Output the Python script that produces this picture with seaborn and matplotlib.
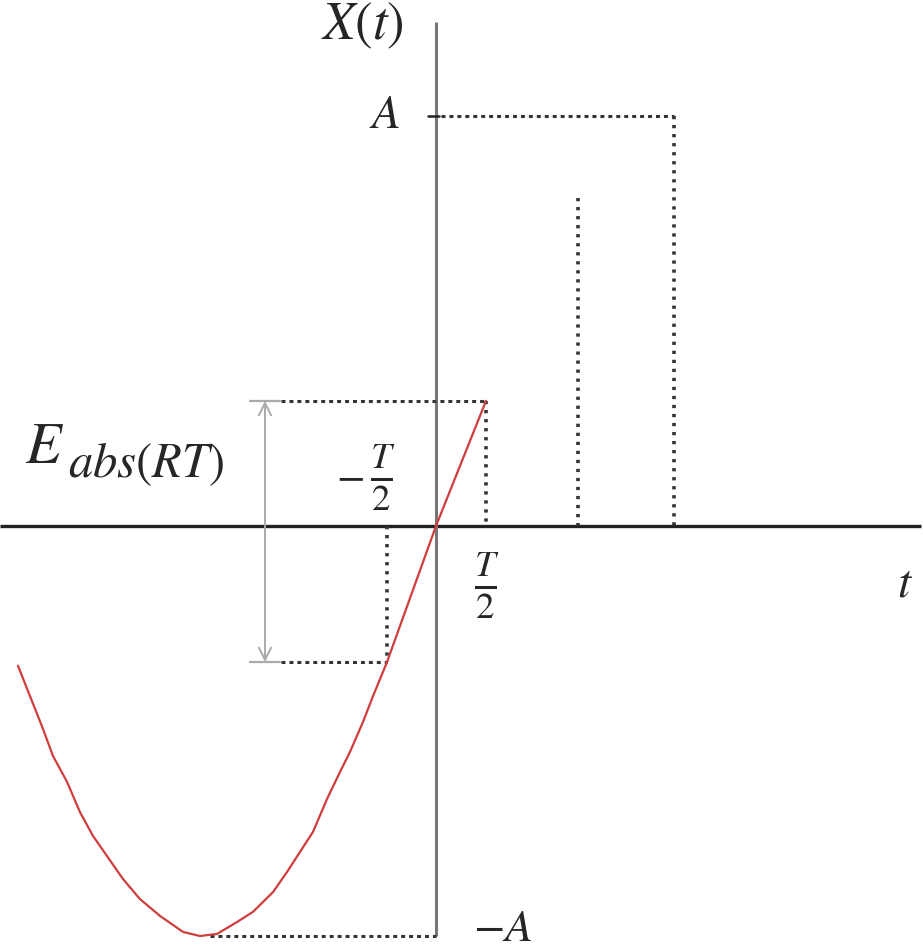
import numpy as np
import matplotlib
matplotlib.use('Agg')
import matplotlib.pyplot as plt
import seaborn as sns
import pandas as pd

# units: t in T/2, X in A
curve_t = [-8.36, -8.12, -7.86, -7.66, -7.38, -7.12, -6.86, -6.58, -6.26, -5.92,
           -5.52, -5.06, -4.72, -4.38, -3.98, -3.66, -3.26, -2.98, -2.72, -2.46,
           -2.18, -1.92, -1.72, -1.46, -1.26, -0.98, 0.0, 1.0]
curve_x = [-0.341, -0.415, -0.495, -0.561, -0.624, -0.698, -0.756, -0.805, -0.861, -0.910,
           -0.951, -0.990, -1.0, -0.995, -0.966, -0.941, -0.893, -0.844, -0.795, -0.746,
           -0.666, -0.600, -0.551, -0.478, -0.415, -0.332, 0.0, 0.305]

half_T = 1.0
amp = 1.0
e_top = 0.305
e_bot = -0.332
pulse_edges = [2.84, 4.76]
pulse_mid_top = 0.80
t_min = -4.72

sns.set_style('white')
plt.rcParams['mathtext.fontset'] = 'stix'
plt.rcParams['font.family'] = ['STIXGeneral', 'DejaVu Serif']

fig = plt.figure(figsize=(9.23, 9.53), dpi=100)
ax = fig.add_axes([0, 0, 1, 1])
ax.set_xlim(-8.72, 9.74)
ax.set_ylim(-1.039, 1.285)
ax.axis('off')

# axes
ax.plot([-8.72, 9.7], [0, 0], color='#222222', lw=2.4, solid_capstyle='butt')
ax.plot([0, 0], [-1.0, 1.23], color='#777777', lw=2.2, solid_capstyle='butt')
ax.plot([-0.16, 0.06], [amp, amp], color='#222222', lw=1.8)

hdash = dict(color='#333333', lw=2.2, linestyle=(0, (1.3, 1.3)))
vdot = dict(color='#333333', lw=2.6, linestyle=(0, (0.9, 1.6)))

# pulse outline
ax.plot([0.1, pulse_edges[1]], [amp, amp], **hdash)
ax.plot([pulse_edges[1], pulse_edges[1]], [amp, 0], **vdot)
ax.plot([pulse_edges[0], pulse_edges[0]], [pulse_mid_top, 0], **vdot)

# E bounds
ax.plot([-3.1, half_T], [e_top, e_top], **hdash)
ax.plot([half_T, half_T], [e_top, 0], **vdot)
ax.plot([-3.1, -0.98], [e_bot, e_bot], **hdash)
ax.plot([-0.98, -0.98], [0, e_bot], **vdot)
ax.plot([t_min + 0.2, 0], [-amp, -amp], **hdash)

# gray double arrow with caps
ax.plot([-3.72, -3.12], [e_top, e_top], color='#aaaaaa', lw=1.6)
ax.plot([-3.72, -3.12], [e_bot, e_bot], color='#aaaaaa', lw=1.6)
ax.annotate('', xy=(-3.42, e_top), xytext=(-3.42, e_bot),
            arrowprops=dict(arrowstyle='<->', color='#aaaaaa', lw=1.4,
                            mutation_scale=22, shrinkA=0, shrinkB=0))

# red curve
df = pd.DataFrame({'t': curve_t, 'x': curve_x})
sns.lineplot(data=df, x='t', y='x', ax=ax, color='#cf3d3d', lw=1.6, sort=False)
ax.set_xlabel('')
ax.set_ylabel('')

# labels
ax.text(-1.48, 1.22, r'$X(t)$', fontsize=38, ha='center', va='center')
ax.text(-0.72, amp, r'$A$', fontsize=34, ha='right', va='center')
ax.text(-8.22, 0.156, r'$E$', fontsize=42, ha='left', va='baseline')
ax.text(-7.36, 0.122, r'$abs(RT)$', fontsize=35, ha='left', va='baseline')
ax.text(-1.72, 0.118, r'$-$', fontsize=30, ha='center', va='center')
ax.text(-1.06, 0.122, r'$\frac{T}{2}$', fontsize=38, ha='center', va='center')
ax.text(1.02, -0.141, r'$\frac{T}{2}$', fontsize=38, ha='center', va='center')
ax.text(9.38, -0.141, r'$t$', fontsize=34, ha='center', va='center')
ax.text(0.74, -0.985, r'$-A$', fontsize=33, ha='left', va='center')

fig.savefig('out.png', dpi=100)
